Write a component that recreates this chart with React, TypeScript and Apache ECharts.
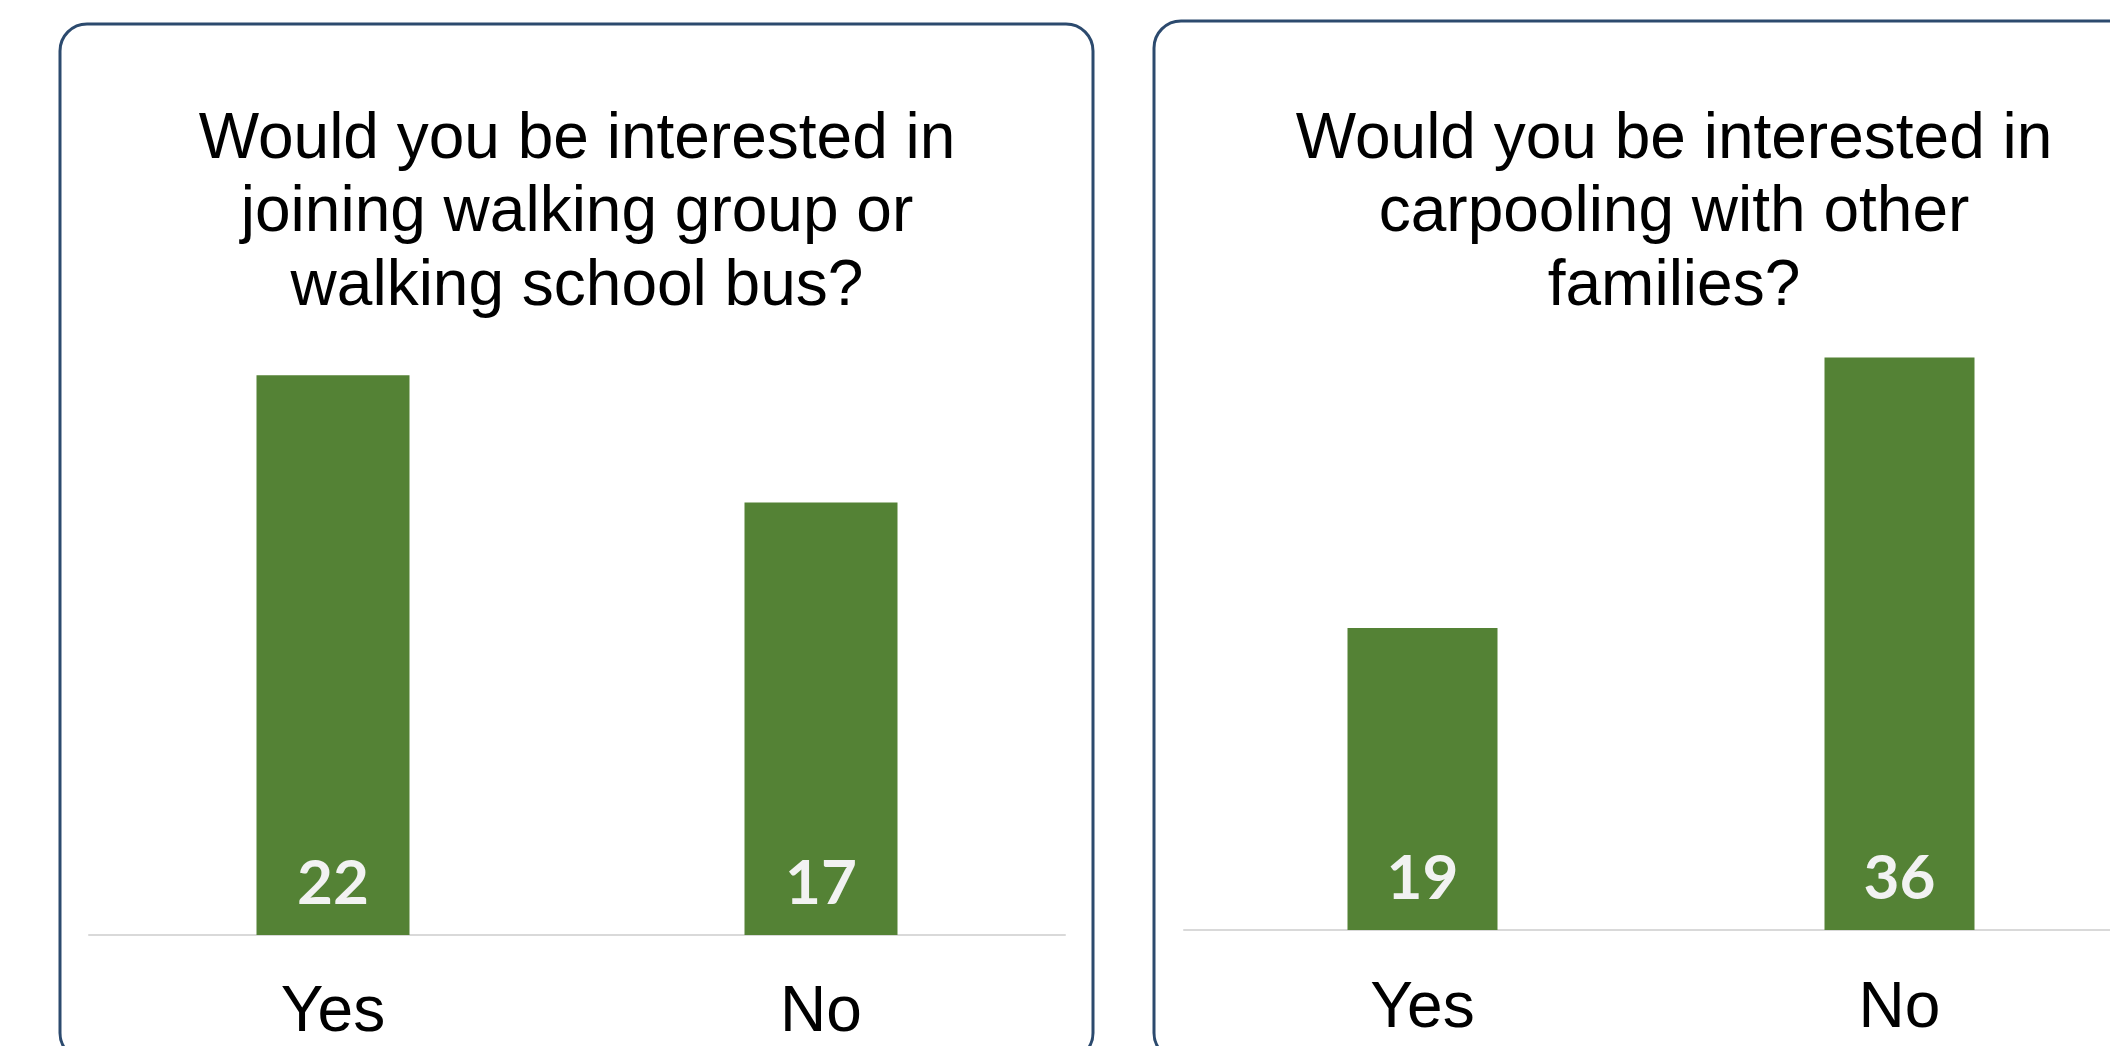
import React, { useEffect, useRef } from "react";
import * as echarts from "echarts";

const categories = ["Yes", "No"];
const walkingValues = [22, 17];
const carpoolValues = [19, 36];
const walkingTitle = "Would you be interested in\njoining walking group or\nwalking school bus?";
const carpoolTitle = "Would you be interested in\ncarpooling with other\nfamilies?";

const GREEN = "#548235";
const BORDER = "#2C4A6E";
const AXIS = "#D9D9D9";

export default function App() {
  const ref = useRef<HTMLDivElement>(null);
  useEffect(() => {
    if (!ref.current) return;
    const chart = echarts.init(ref.current, undefined, { renderer: "svg" });
    const labelStyle = (dist: number) => ({
      show: true,
      position: "insideBottom",
      distance: dist,
      color: "#F2F2F2",
      fontFamily: "Lato",
      fontWeight: "bold",
      fontSize: 62,
      lineHeight: 62,
    });
    const xAxisBase = (gridIndex: number, margin: number) => ({
      type: "category",
      gridIndex,
      data: categories,
      axisLine: { show: true, lineStyle: { color: AXIS, width: 2 } },
      axisTick: { show: false },
      axisLabel: {
        color: "#000",
        fontFamily: "Liberation Sans",
        fontSize: 64,
        lineHeight: 64,
        margin,
      },
    });
    chart.setOption({
      animation: false,
      backgroundColor: "#fff",
      grid: [
        { left: 89, width: 976, top: 299, bottom: 111, containLabel: false, outerBoundsMode: "none" },
        { left: 1184, width: 954, top: 294, bottom: 116, containLabel: false, outerBoundsMode: "none" },
      ],
      xAxis: [xAxisBase(0, 42), xAxisBase(1, 43)],
      yAxis: [
        { type: "value", gridIndex: 0, min: 0, max: 25, show: false, splitLine: { show: false } },
        { type: "value", gridIndex: 1, min: 0, max: 40, show: false, splitLine: { show: false } },
      ],
      series: [
        {
          type: "bar",
          xAxisIndex: 0,
          yAxisIndex: 0,
          data: walkingValues,
          barWidth: 153,
          itemStyle: { color: GREEN },
          label: labelStyle(24),
        },
        {
          type: "bar",
          xAxisIndex: 1,
          yAxisIndex: 1,
          data: carpoolValues,
          barWidth: 150,
          itemStyle: { color: GREEN },
          label: labelStyle(24),
        },
      ],
      graphic: [
        {
          type: "rect",
          shape: { x: 60, y: 24, width: 1033, height: 1036, r: 27 },
          style: { fill: "none", stroke: BORDER, lineWidth: 3 },
          z: 100,
        },
        {
          type: "rect",
          shape: { x: 1154, y: 21, width: 1036, height: 1039, r: 27 },
          style: { fill: "none", stroke: BORDER, lineWidth: 3 },
          z: 100,
        },
        {
          type: "text",
          x: 577,
          y: 99,
          style: {
            text: walkingTitle,
            font: '64px "Liberation Sans"',
            fill: "#000",
            align: "center",
            verticalAlign: "top",
            lineHeight: 73.5,
          },
        },
        {
          type: "text",
          x: 1674,
          y: 99,
          style: {
            text: carpoolTitle,
            font: '64px "Liberation Sans"',
            fill: "#000",
            align: "center",
            verticalAlign: "top",
            lineHeight: 73.5,
          },
        },
      ],
    });
    return () => chart.dispose();
  }, []);
  return (
    <div
      ref={ref}
      style={{ position: "absolute", left: 0, top: 0, width: 2110, height: 1046 }}
    />
  );
}
